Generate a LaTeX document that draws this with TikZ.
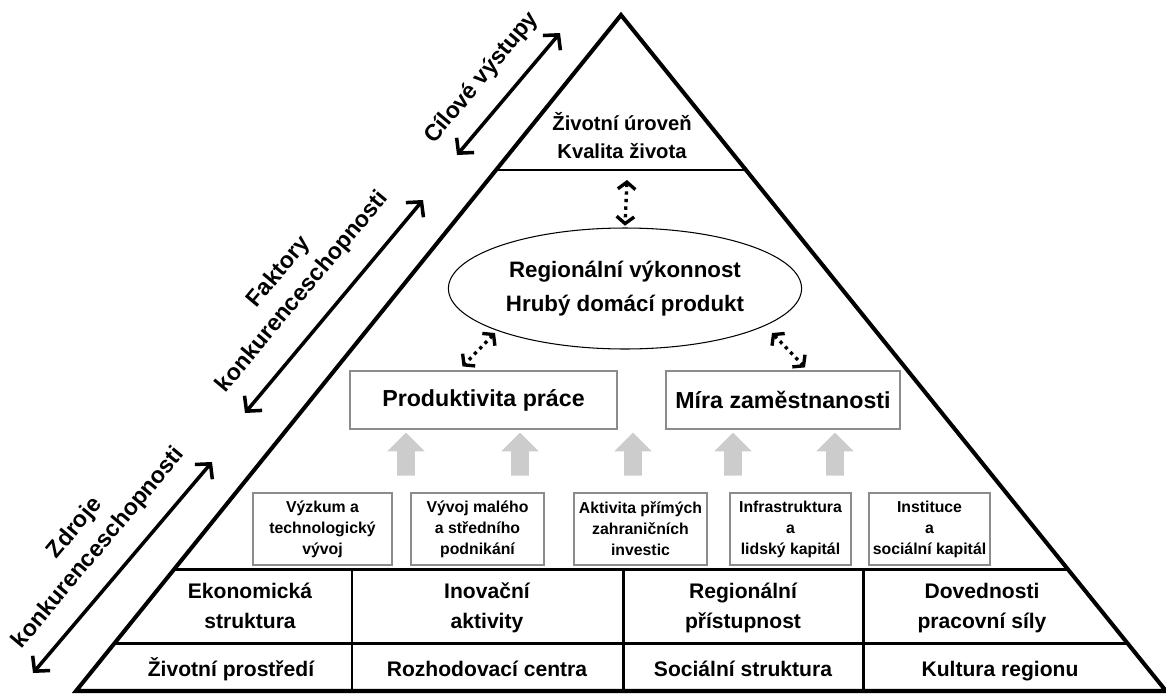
\documentclass[tikz,border=0pt]{standalone}
\usepackage{fontspec}
\setmainfont{Liberation Sans}
\usetikzlibrary{arrows.meta, shapes.geometric, shapes.arrows, calc}

\colorlet{box edge}{black!45}
\colorlet{up arrow}{black!20}
\tikzset{
  x=0.02cm, y=-0.02cm,
  pyramid/.style={line width=2.3pt, line join=miter},
  rowline/.style={line width=1.7pt},
  bigbox/.style={draw=box edge, line width=0.7pt, minimum width=#1, minimum height=1.16cm,
    font=\fontsize{13.2}{15}\selectfont\bfseries},
  smallbox/.style={draw=box edge, line width=0.7pt, minimum width=#1, minimum height=1.44cm,
    align=center, inner sep=1pt, font=\fontsize{9}{11.9}\selectfont\bfseries},
  cell/.style={align=center, font=\fontsize{12}{17}\selectfont\bfseries,
    execute at begin node=\strut, execute at end node=\strut},
  sidelabel/.style={align=center, rotate=50, font=\fontsize{13.2}{17.6}\selectfont\bfseries},
  edgee/.style={{Straight Barb[length=6pt,width=13pt]}-{Straight Barb[length=6pt,width=13pt]},
    line width=2pt},
  dotedge/.style={{Straight Barb[length=4pt,width=10pt]}-{Straight Barb[length=4pt,width=10pt]},
    line width=1.9pt, dash pattern=on 1.9pt off 2.4pt},
  uparrow/.style={single arrow, shape border rotate=90, fill=up arrow, draw=none,
    minimum height=0.86cm, inner sep=0.17cm, single arrow head extend=0.2cm}
}

\begin{document}
\begin{tikzpicture}
  \useasboundingbox (0,0) rectangle (1166,693);

  % pyramid
  \coordinate (apex) at (621,15);
  \coordinate (bl) at (76,691);
  \coordinate (br) at (1166,691);
  \draw[pyramid] (bl) -- (apex) -- (br) -- cycle;
  \draw[rowline] (496,170) -- (746,170);
  \draw[rowline] (174.4,569) -- (1067.6,569);
  \draw[rowline] (114.7,643) -- (1127.3,643);
  \foreach \cx in {352,623,863}
    \draw[rowline] (\cx,569) -- (\cx,691);

  % top
  \node[align=center, font=\fontsize{11.5}{15.9}\selectfont\bfseries] (zivot) at (622,136)
    {Životní úroveň\\Kvalita života};

  % middle
  \node[draw, ellipse, line width=0.6pt, minimum width=6.64cm, minimum height=2.42cm, align=center,
    font=\fontsize{12.7}{19.3}\selectfont\bfseries] (vykon) at (625,288.5)
    {Regionální výkonnost\\Hrubý domácí produkt};
  \node[bigbox=5.34cm] (prod) at (483.5,400) {Produktivita práce};
  \node[bigbox=4.68cm] (mira) at (783,400) {Míra zaměstnanosti};

  \coordinate (lvl) at (627,180);
  \draw[dotedge] (lvl) -- ([yshift=1pt]vykon.north);
  \draw[dotedge] (495,333) -- ($(prod.north)+(-21,-4)$);
  \draw[dotedge] (772,333) -- ($(mira.north)+(22,-3)$);

  % factors
  \node[smallbox=2.78cm] (vyzkum) at (322.5,529) {Výzkum a\\technologický\\vývoj};
  \node[smallbox=2.66cm] (msp) at (477.5,529) {Vývoj malého\\a středního\\podnikání};
  \node[smallbox=2.66cm] (pzi) at (640.5,529) {Aktivita přímých\\zahraničních\\investic};
  \node[smallbox=2.42cm] (infra) at (790.5,529) {Infrastruktura\\a\\lidský kapitál};
  \node[smallbox=2.42cm] (inst) at (929.5,529) {Instituce\\a\\sociální kapitál};

  \foreach \ax [count=\i] in {406,520,633,733,835}
    \node[uparrow] (up\i) at (\ax,458.5) {};

  % sources
  \node[cell] (ekon) at (250,610) {Ekonomická\\struktura};
  \node[cell] (inov) at (487,610) {Inovační\\aktivity};
  \node[cell] (pristup) at (743,610) {Regionální\\přístupnost};
  \node[cell] (doved) at (982,610) {Dovednosti\\pracovní síly};
  \node[cell] (prostr) at (231,671) {Životní prostředí};
  \node[cell] (rozhod) at (487,671) {Rozhodovací centra};
  \node[cell] (soc) at (743,671) {Sociální struktura};
  \node[cell] (kult) at (1000,671) {Kultura regionu};

  % side labels
  \coordinate (cilA) at (457,155);
  \coordinate (cilB) at (560,33);
  \coordinate (fakA) at (245,413);
  \coordinate (fakB) at (423,200);
  \coordinate (zdrA) at (33,673);
  \coordinate (zdrB) at (212,462);
  \draw[edgee] (cilA) -- (cilB);
  \draw[edgee] (fakA) -- (fakB);
  \draw[edgee] (zdrA) -- (zdrB);
  \node[sidelabel] (cil) at (482,78) {Cílové výstupy};
  \node[sidelabel] (fak) at (291,282) {Faktory\\konkurenceschopnosti};
  \node[sidelabel] (zdr) at (87,538) {Zdroje\\konkurenceschopnosti};
\end{tikzpicture}
\end{document}
